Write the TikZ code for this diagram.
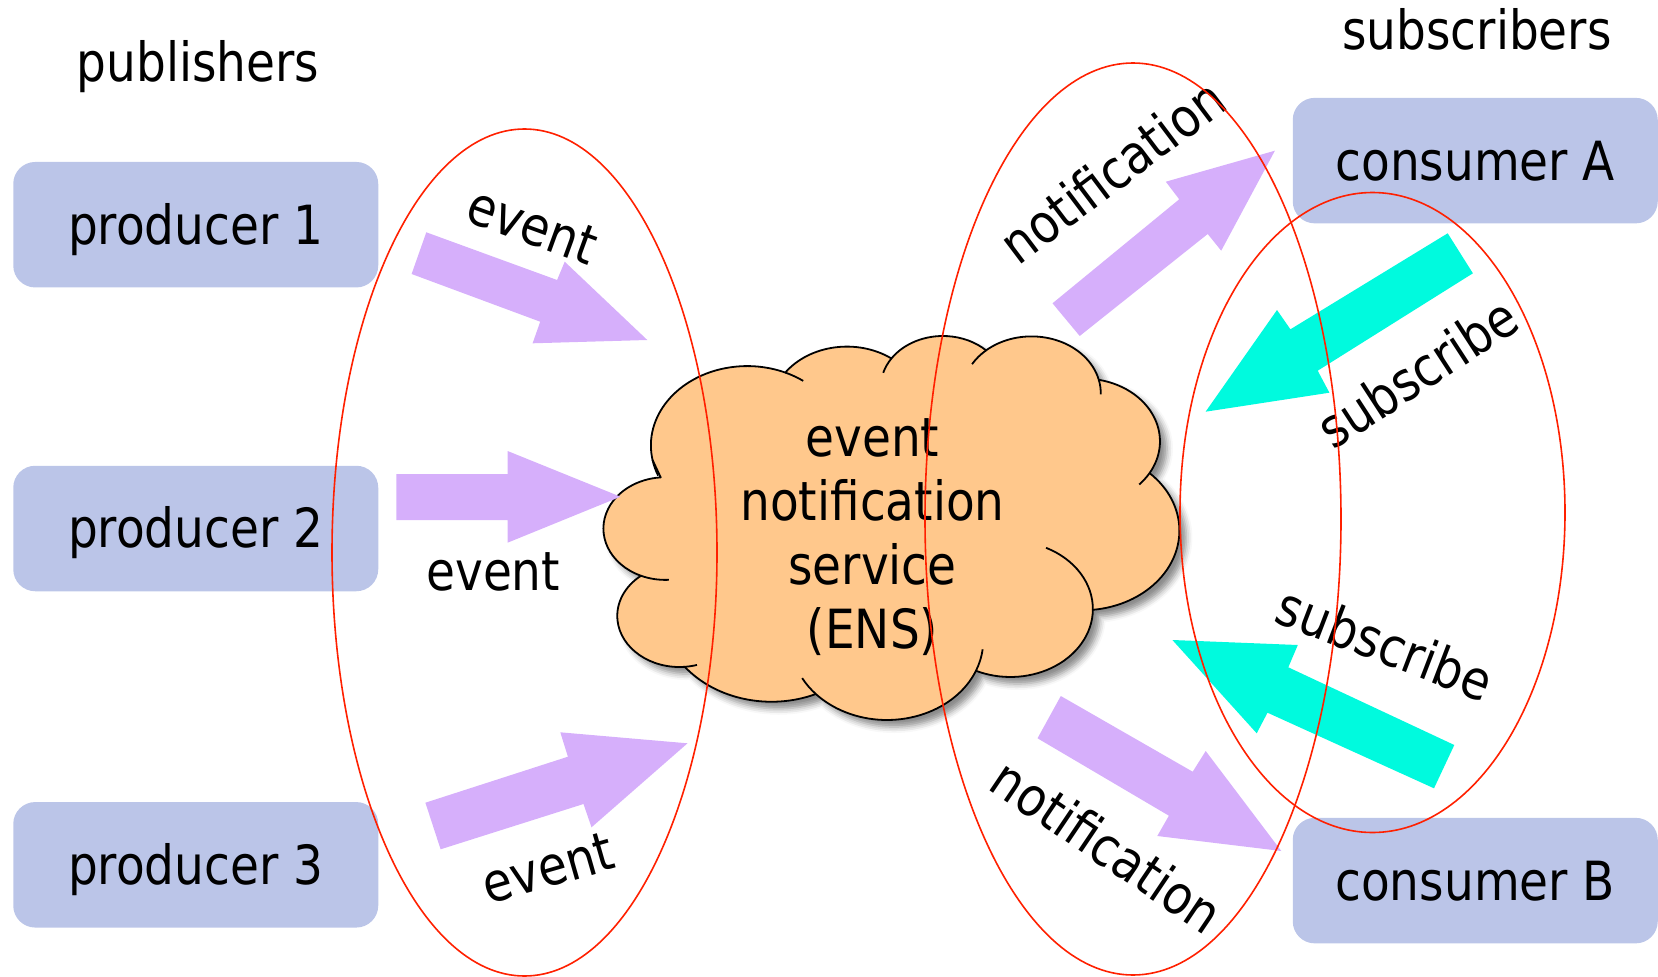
\documentclass[tikz,border=0pt]{standalone}
\usepackage{fontspec}
\setmainfont{DejaVu Sans}[FakeStretch=0.87]
\usetikzlibrary{shadows.blur}

\definecolor{boxblue}{RGB}{187,197,232}
\definecolor{evviolet}{RGB}{214,175,251}
\definecolor{subcyan}{RGB}{0,250,222}
\definecolor{cloudfill}{RGB}{255,200,140}
\definecolor{ringred}{RGB}{255,32,0}

\newcommand\diafont{\fontsize{54}{60}\selectfont}

\tikzset{
  party/.style={rectangle, rounded corners=22pt, fill=boxblue, inner sep=0pt,
    minimum width=365pt, minimum height=125.5pt,
    text height=38.9pt, text depth=0pt, font=\diafont},
  heading/.style={anchor=base, inner sep=0pt, font=\diafont},
  flowlabel/.style={inner sep=0pt, text height=29.5pt, text depth=0pt, font=\diafont},
  eventarrow/.style={fill=evviolet},
  subarrow/.style={fill=subcyan},
  ring/.style={draw=ringred, line width=1.6pt},
  cloudline/.style={draw=black, line width=1.8pt},
}

\begin{document}
\begin{tikzpicture}[x=1pt, y=-1pt, line join=round]
\useasboundingbox (0,0) rectangle (1658,977);

% headings
\node[heading] (pubhead) at (198,81.5) {publishers};
\node[heading] (subhead) at (1477,49.5) {subscribers};

% producers and consumers
\node[party] (p1) at (195.75,224.7) {producer 1};
\node[party] (p2) at (195.75,528.5) {producer 2};
\node[party] (p3) at (195.75,864.8) {producer 3};
\node[party] (ca) at (1475.25,160.6) {consumer A};
\node[party] (cb) at (1475.25,880.6) {consumer B};

% the event notification service cloud
\begin{scope}[shift={(596.9,335.8)}, x=0.14261pt, y=-0.08635pt]
  \path[fill=cloudfill, cloudline,
        blur shadow={shadow xshift=7pt, shadow yshift=-7pt, shadow blur radius=6pt, shadow opacity=45}]
    (390,1437) coordinate (k0)
    arc[start angle=-190.4875, delta angle=123.7805, x radius=675.3, y radius=919.0] coordinate (k1)
    arc[start angle=-144.1024, delta angle=89.9452, x radius=533.3, y radius=726.7] coordinate (k2)
    arc[start angle=-145.8079, delta angle=99.7230, x radius=436.5, y radius=594.5] coordinate (k3)
    arc[start angle=-130.9861, delta angle=117.2417, x radius=485.7, y radius=659.5] coordinate (k4)
    arc[start angle=-78.7089, delta angle=109.0269, x radius=533.3, y radius=727.3] coordinate (k5)
    arc[start angle=-46.2673, delta angle=130.2690, x radius=677.5, y radius=922.0] coordinate (k6)
    arc[start angle=0.6250, delta angle=114.0333, x radius=578.5, y radius=786.7] coordinate (k7)
    arc[start angle=22.4516, delta angle=115.1726, x radius=675.2, y radius=921.5] coordinate (k8)
    arc[start angle=66.2426, delta angle=75.7110, x radius=772.0, y radius=1054.3] coordinate (k9)
    arc[start angle=-274.9421, delta angle=146.7356, x radius=436.0, y radius=591.8] coordinate (k10)
    arc[start angle=-246.8285, delta angle=152.5189, x radius=434.5, y radius=594.5]
    -- cycle;
  % inner strokes where the lobes meet
  \draw[cloudline] (k0) arc[start angle=-190.4875, delta angle=-11.86, x radius=675.3, y radius=919.0];
  \draw[cloudline] (k1) arc[start angle=-66.707, delta angle=12.3, x radius=675.3, y radius=919.0];
  \draw[cloudline] (k2) arc[start angle=-145.8079, delta angle=-17.7, x radius=436.5, y radius=594.5];
  \draw[cloudline] (k3) arc[start angle=-130.9861, delta angle=-18.2, x radius=485.7, y radius=659.5];
  \draw[cloudline] (k4) arc[start angle=-13.7444, delta angle=14.85, x radius=485.7, y radius=659.5];
  \draw[cloudline] (k5) arc[start angle=30.318, delta angle=13, x radius=533.3, y radius=727.3];
  \draw[cloudline] (k6) arc[start angle=0.6250, delta angle=-65, x radius=578.5, y radius=786.7];
  \draw[cloudline] (k7) arc[start angle=22.4516, delta angle=-16, x radius=675.2, y radius=921.5];
  \draw[cloudline] (k8) arc[start angle=137.6242, delta angle=14.1, x radius=675.2, y radius=921.5];
  \draw[cloudline] (k9) arc[start angle=-274.9421, delta angle=-11.4, x radius=436.0, y radius=591.8];
  \draw[cloudline] (k10) arc[start angle=-246.8285, delta angle=-26.4, x radius=434.5, y radius=594.5];
\end{scope}

\node[heading] (ens1) at (872.5,456) {event};
\node[heading] (ens2) at (872.5,520) {notification};
\node[heading] (ens3) at (872.5,584) {service};
\node[heading] (ens4) at (872.5,648.3) {(ENS)};

% events from the producers
\fill[eventarrow] (426.3,232.3) -- (557.1,280) -- (564.7,261.7) -- (647.3,340)
  -- (532.6,343.3) -- (540.2,321.7) -- (411.6,274) -- cycle;
\fill[eventarrow] (396.4,474) -- (507.6,474) -- (507.6,451) -- (620.5,496.7)
  -- (507.6,542.7) -- (507.6,520) -- (396.4,520) -- cycle;
\fill[eventarrow] (425.4,802.7) -- (567.9,756.7) -- (560.3,732.3) -- (687.5,743.3)
  -- (591.5,827.3) -- (583.5,804) -- (440.6,849.3) -- cycle;

% notifications to the consumers
\fill[eventarrow] (1052.5,303.3) -- (1179.2,199.3) -- (1165.8,181.7) -- (1274.9,150.7)
  -- (1221.2,250.7) -- (1207.7,234) -- (1079.7,336) -- cycle;
\fill[eventarrow] (1060.8,696) -- (1192.7,771.7) -- (1205.7,751) -- (1281.3,851)
  -- (1157.3,836) -- (1168.9,815.7) -- (1037.5,738.3) -- cycle;

% subscriptions from the consumers
\fill[subarrow] (1447.7,233.3) -- (1290.4,329.3) -- (1277,310) -- (1205.6,411.7)
  -- (1329.4,392.7) -- (1317.7,370.7) -- (1472.9,273.3) -- cycle;
\fill[subarrow] (1454.3,745) -- (1288.3,667.3) -- (1297.8,645) -- (1172.4,640)
  -- (1256.7,733.3) -- (1267.5,712.7) -- (1434,788.3) -- cycle;

% arrow labels
\node[flowlabel, rotate=-20] (lev1) at (531,229.5) {event};
\node[heading] (lev2) at (493.3,590) {event};
\node[flowlabel, rotate=16] (lev3) at (549,872) {event};
\node[flowlabel, rotate=37] (lnotA) at (1115.4,175) {notification};
\node[flowlabel, rotate=-34] (lnotB) at (1104.3,850) {notification};
\node[flowlabel, rotate=33] (lsubA) at (1420,377) {subscribe};
\node[flowlabel, rotate=-21] (lsubB) at (1383.3,648.3) {subscribe};

% groupings
\draw[ring] (524.5,552.5) ellipse [x radius=192.5, y radius=423.5];
\draw[ring] (1133,519) ellipse [x radius=208, y radius=456];
\draw[ring] (1372.5,512.5) ellipse [x radius=192.5, y radius=320];
\end{tikzpicture}
\end{document}
